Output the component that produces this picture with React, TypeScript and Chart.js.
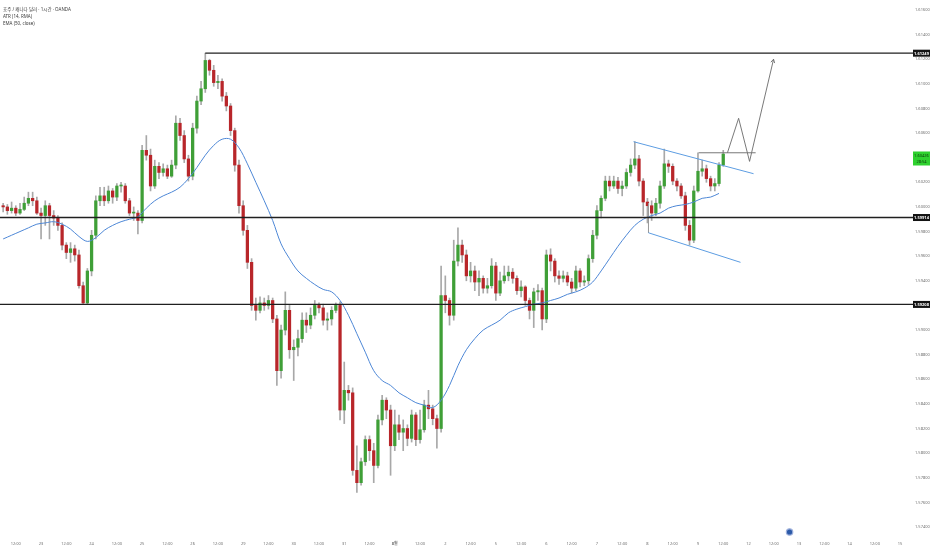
import { useEffect, useRef } from 'react';
import { Chart, registerables } from 'chart.js';

Chart.register(...registerables);

// ---------- header ----------
const titleLines = ['호주 / 캐나다 달러 · 1시간 · OANDA', 'ATR (14, RMA)', 'EMA (50, close)'];

// ---------- time axis (hours relative to 23일 00:00) ----------
const dayLabels = ['23', '24', '25', '26', '29', '30', '31', '8월', '2', '5', '6', '7', '8', '9', '12', '13', '14', '15'];
const halfDayLabel = '12:00';
const hoursPerDay = 24;
const xMin = -19.5;
const xMax = 412.7;

// ---------- candles (2-hour bars, open = previous close) ----------
const firstCandleHour = -19;
const candleHours = 2;
const firstOpen = 1.6001;
const closes = [
  1.6000, 1.5997, 1.5999, 1.5995, 1.5998, 1.6003, 1.6007, 1.6005, 1.5995, 1.5993,
  1.6001, 1.5993, 1.5991, 1.5985, 1.5969, 1.5963, 1.5966, 1.5961, 1.5936, 1.5922,
  1.5948, 1.5977, 1.6005, 1.6009, 1.6005, 1.6013, 1.6008, 1.6017, 1.6017, 1.6005,
  1.5995, 1.5995, 1.5989, 1.6046, 1.6042, 1.6017, 1.6033, 1.6028, 1.6031, 1.6025,
  1.6034, 1.6068, 1.6058, 1.6039, 1.6025, 1.6064, 1.6086, 1.6096, 1.6119, 1.6111,
  1.6101, 1.6102, 1.6090, 1.6082, 1.6062, 1.6034, 1.6001, 1.5981, 1.5955, 1.5920,
  1.5916, 1.5922, 1.5920, 1.5924, 1.5909, 1.5867, 1.5900, 1.5916, 1.5884, 1.5886,
  1.5893, 1.5908, 1.5904, 1.5912, 1.5920, 1.5918, 1.5908, 1.5909, 1.5916, 1.5920,
  1.5835, 1.5851, 1.5849, 1.5786, 1.5776, 1.5793, 1.5811, 1.5802, 1.5790, 1.5827,
  1.5843, 1.5835, 1.5806, 1.5823, 1.5817, 1.5820, 1.5812, 1.5831, 1.5811, 1.5819,
  1.5839, 1.5836, 1.5828, 1.5820, 1.5928, 1.5924, 1.5912, 1.5956, 1.5969, 1.5961,
  1.5944, 1.5948, 1.5939, 1.5942, 1.5934, 1.5936, 1.5952, 1.5930, 1.5940, 1.5944,
  1.5947, 1.5942, 1.5932, 1.5935, 1.5924, 1.5916, 1.5931, 1.5932, 1.5909, 1.5961,
  1.5956, 1.5944, 1.5942, 1.5944, 1.5939, 1.5934, 1.5948, 1.5939, 1.5940, 1.5958,
  1.5977, 1.5997, 1.6007, 1.6021, 1.6017, 1.6021, 1.6015, 1.6017, 1.6028, 1.6034,
  1.6039, 1.6021, 1.6004, 1.6001, 1.5995, 1.6003, 1.6017, 1.6035, 1.6033, 1.6021,
  1.6017, 1.6009, 1.5985, 1.5973, 1.6013, 1.6029, 1.6031, 1.6023, 1.6017, 1.6019,
  1.6034, 1.6043,
];
const highs = [
  1.6003, 1.6002, 1.6004, 1.6001, 1.6003, 1.6008, 1.6012, 1.6012, 1.6008, 1.5999,
  1.6005, 1.6003, 1.5997, 1.5993, 1.5987, 1.5971, 1.5971, 1.5969, 1.5965, 1.5939,
  1.5950, 1.5981, 1.6009, 1.6016, 1.6016, 1.6017, 1.6015, 1.6019, 1.6020, 1.6019,
  1.6007, 1.6000, 1.5997, 1.6050, 1.6058, 1.6047, 1.6038, 1.6036, 1.6035, 1.6034,
  1.6038, 1.6074, 1.6072, 1.6062, 1.6042, 1.6068, 1.6090, 1.6102, 1.61249, 1.6120,
  1.6115, 1.6107, 1.6104, 1.6093, 1.6084, 1.6064, 1.6038, 1.6005, 1.5985, 1.5958,
  1.5926, 1.5927, 1.5926, 1.5928, 1.5926, 1.5912, 1.5904, 1.5931, 1.5920, 1.5892,
  1.5900, 1.5914, 1.5914, 1.5918, 1.5924, 1.5922, 1.5921, 1.5914, 1.5919, 1.5922,
  1.5923, 1.5874, 1.5855, 1.5853, 1.5806, 1.5796, 1.5814, 1.5814, 1.5808, 1.5831,
  1.5847, 1.5845, 1.5839, 1.5835, 1.5831, 1.5827, 1.5823, 1.5835, 1.5833, 1.5835,
  1.5843, 1.5851, 1.5839, 1.5831, 1.5952, 1.5944, 1.5926, 1.5973, 1.5983, 1.5973,
  1.5965, 1.5955, 1.5952, 1.5948, 1.5944, 1.5942, 1.5958, 1.5955, 1.5947, 1.5952,
  1.5952, 1.5950, 1.5944, 1.5940, 1.5936, 1.5926, 1.5934, 1.5937, 1.5934, 1.5965,
  1.5966, 1.5958, 1.5948, 1.5948, 1.5947, 1.5942, 1.5952, 1.5950, 1.5944, 1.5961,
  1.5981, 1.6001, 1.6009, 1.6025, 1.6025, 1.6025, 1.6024, 1.6021, 1.6031, 1.6039,
  1.6053, 1.6042, 1.6023, 1.6007, 1.6005, 1.6007, 1.6021, 1.6047, 1.6038, 1.6035,
  1.6023, 1.6019, 1.6012, 1.5989, 1.6017, 1.6044, 1.6038, 1.6034, 1.6025, 1.6023,
  1.6036, 1.6046,
];
const lows = [
  1.5996, 1.5994, 1.5995, 1.5993, 1.5994, 1.5997, 1.6001, 1.6001, 1.5994, 1.5974,
  1.5985, 1.5974, 1.5985, 1.5981, 1.5965, 1.5958, 1.5955, 1.5956, 1.5934, 1.5921,
  1.5921, 1.5944, 1.5974, 1.6001, 1.6001, 1.6003, 1.6003, 1.6005, 1.6012, 1.6003,
  1.5993, 1.5989, 1.5978, 1.5987, 1.6038, 1.6013, 1.6015, 1.6023, 1.6025, 1.6023,
  1.6024, 1.6031, 1.6054, 1.6036, 1.6021, 1.6022, 1.6060, 1.6083, 1.6093, 1.6107,
  1.6098, 1.6096, 1.6086, 1.6078, 1.6058, 1.6029, 1.5995, 1.5977, 1.5950, 1.5916,
  1.5908, 1.5914, 1.5916, 1.5917, 1.5906, 1.5855, 1.5861, 1.5896, 1.5877, 1.5859,
  1.5879, 1.5890, 1.5898, 1.5901, 1.5909, 1.5914, 1.5904, 1.5900, 1.5904, 1.5914,
  1.5827, 1.5824, 1.5843, 1.5782, 1.5768, 1.5774, 1.5790, 1.5794, 1.5776, 1.5788,
  1.5823, 1.5828, 1.5782, 1.5802, 1.5811, 1.5802, 1.5806, 1.5809, 1.5806, 1.5808,
  1.5817, 1.5828, 1.5823, 1.5804, 1.5817, 1.5914, 1.5904, 1.5908, 1.5952, 1.5955,
  1.5940, 1.5939, 1.5932, 1.5928, 1.5930, 1.5930, 1.5934, 1.5924, 1.5928, 1.5938,
  1.5940, 1.5938, 1.5929, 1.5927, 1.5920, 1.5909, 1.5902, 1.5924, 1.5900, 1.5906,
  1.5948, 1.5939, 1.5937, 1.5939, 1.5936, 1.5930, 1.5932, 1.5935, 1.5936, 1.5937,
  1.5955, 1.5974, 1.5991, 1.6005, 1.6013, 1.6015, 1.6011, 1.6009, 1.6015, 1.6025,
  1.6031, 1.6017, 1.5993, 1.5987, 1.5989, 1.5993, 1.5999, 1.6015, 1.6028, 1.6018,
  1.6013, 1.6007, 1.5981, 1.5969, 1.5971, 1.6012, 1.6025, 1.6020, 1.6013, 1.6013,
  1.6017, 1.6033,
];

// ---------- EMA (50, close), read at every 2nd candle ----------
const emaStep = 2;
const emaValues = [
  1.5974, 1.5977, 1.5980, 1.5983, 1.5986, 1.5987, 1.5988, 1.5986, 1.5982, 1.5976,
  1.5972, 1.5975, 1.5981, 1.5985, 1.5988, 1.5990, 1.5992, 1.5999, 1.6005, 1.6009,
  1.6012, 1.6016, 1.6023, 1.6032, 1.6042, 1.6050, 1.6055, 1.6055, 1.6048, 1.6035,
  1.6020, 1.6005, 1.5989, 1.5970, 1.5958, 1.5948, 1.5942, 1.5937, 1.5933, 1.5931,
  1.5924, 1.5912, 1.5897, 1.5882, 1.5867, 1.5859, 1.5855, 1.5849, 1.5845, 1.5841,
  1.5839, 1.5837, 1.5843, 1.5855, 1.5871, 1.5884, 1.5893, 1.5900, 1.5904, 1.5908,
  1.5914, 1.5917, 1.5919, 1.5921, 1.5922, 1.5924, 1.5926, 1.5929, 1.5931, 1.5934,
  1.5939, 1.5948, 1.5958, 1.5968, 1.5977, 1.5985, 1.5990, 1.5993, 1.5995, 1.5999,
  1.6001, 1.6002, 1.6004, 1.6007, 1.6008, 1.6011,
];

// ---------- price axis ----------
const priceTicks = [
  1.574, 1.576, 1.578, 1.58, 1.582, 1.584, 1.586, 1.588, 1.59, 1.592, 1.594,
  1.596, 1.598, 1.6, 1.602, 1.604, 1.606, 1.608, 1.61, 1.612, 1.614, 1.616,
];
const priceDecimals = 5;
const yMin = 1.57335;
const yMax = 1.61681;

// ---------- drawings (hours, price) ----------
const levelPrices = [1.61249, 1.59914, 1.59208];
const levelStartHours = [78, xMin, xMin];
const levelLabels = ['1.61249', '1.59914', '1.59208'];
const lastPrice = 1.60426;
const lastPriceLabel = '1.60426';
const countdownLabel = '28:54';
const channelUpper = [{ x: 281.4, y: 1.6053 }, { x: 338.4, y: 1.6027 }];
const channelLower = [{ x: 288.5, y: 1.5979 }, { x: 332.2, y: 1.5955 }];
const channelPole = [{ x: 288.5, y: 1.6003 }, { x: 288.5, y: 1.5979 }];
const rangeTop = [{ x: 312.3, y: 1.6044 }, { x: 339.4, y: 1.6044 }];
const projectionPath = [
  { x: 326.0, y: 1.6044 },
  { x: 331.3, y: 1.6072 },
  { x: 336.5, y: 1.6037 },
  { x: 347.9, y: 1.6120 },
];
const markerHour = 355.5;

const FONT = '"Noto Sans", "Noto Sans CJK KR", sans-serif';
const UP = '#3f9f37';
const DOWN = '#b8262a';
const WICK = '#a8a8a8';
const AXIS_TEXT = '#707070';

export default function App() {
  const ref = useRef<HTMLCanvasElement>(null);

  useEffect(() => {
    document.body.style.margin = '0';
    const canvas = ref.current;
    if (!canvas) return;

    const candles = closes.map((c, j) => ({
      t: firstCandleHour + candleHours * j + candleHours / 2,
      o: j === 0 ? firstOpen : closes[j - 1],
      h: highs[j],
      l: lows[j],
      c,
    }));
    const bodyData = candles.map((k) => ({ x: k.t, y: [k.o, k.c] }));
    const wickData = candles.map((k) => ({ x: k.t, y: [k.l, k.h] }));
    const emaData = emaValues.map((v, i) => ({
      x: firstCandleHour + candleHours * emaStep * i + candleHours / 2,
      y: v,
    }));

    const xTicks: { value: number; label: string }[] = [];
    dayLabels.forEach((d, i) => {
      xTicks.push({ value: i * hoursPerDay - hoursPerDay / 2, label: halfDayLabel });
      xTicks.push({ value: i * hoursPerDay, label: d });
    });

    const drawLine = (extra: any) => ({
      type: 'line' as const,
      pointRadius: 0,
      borderWidth: 1,
      fill: false,
      order: 0,
      ...extra,
    });

    const overlay = {
      id: 'overlay',
      afterDatasetsDraw(chart: any) {
        const { ctx, chartArea } = chart;
        const xs = chart.scales.x;
        const ys = chart.scales.y;
        ctx.save();
        // horizontal levels
        ctx.strokeStyle = '#202020';
        ctx.lineWidth = 1.3;
        levelPrices.forEach((p, i) => {
          const y = ys.getPixelForValue(p);
          const x0 = Math.max(chartArea.left, xs.getPixelForValue(levelStartHours[i]));
          ctx.beginPath();
          ctx.moveTo(x0, y);
          ctx.lineTo(chartArea.right + 3, y);
          ctx.stroke();
        });
        // arrow head on projection
        const n = projectionPath.length;
        const ax = xs.getPixelForValue(projectionPath[n - 1].x);
        const ay = ys.getPixelForValue(projectionPath[n - 1].y);
        const bx = xs.getPixelForValue(projectionPath[n - 2].x);
        const by = ys.getPixelForValue(projectionPath[n - 2].y);
        const ang = Math.atan2(ay - by, ax - bx);
        ctx.strokeStyle = '#6a6a6a';
        ctx.lineWidth = 0.9;
        ctx.beginPath();
        ctx.moveTo(ax - 4 * Math.cos(ang - 0.5), ay - 4 * Math.sin(ang - 0.5));
        ctx.lineTo(ax, ay);
        ctx.lineTo(ax - 4 * Math.cos(ang + 0.5), ay - 4 * Math.sin(ang + 0.5));
        ctx.stroke();
        ctx.restore();
      },
      afterDraw(chart: any) {
        const { ctx, chartArea } = chart;
        const xs = chart.scales.x;
        const ys = chart.scales.y;
        ctx.save();
        // header
        ctx.fillStyle = '#3a3a3a';
        ctx.font = `4.5px ${FONT}`;
        ctx.textBaseline = 'middle';
        ctx.textAlign = 'left';
        titleLines.forEach((t, i) => ctx.fillText(t, 3, 10 + i * 7));
        // price axis tick labels (from the scale's ticks)
        ctx.fillStyle = AXIS_TEXT;
        ctx.font = `4px ${FONT}`;
        ys.ticks.forEach((t: any) => {
          const y = ys.getPixelForValue(t.value);
          ctx.fillText(Number(t.value).toFixed(priceDecimals), chartArea.right + 5, y);
        });
        // level price labels
        const bx = chartArea.right + 3;
        ctx.textAlign = 'center';
        levelPrices.forEach((p, i) => {
          const y = ys.getPixelForValue(p);
          ctx.fillStyle = '#131313';
          ctx.fillRect(bx, y - 3.5, 17, 7);
          ctx.fillStyle = '#ffffff';
          ctx.font = `bold 4px ${FONT}`;
          ctx.fillText(levelLabels[i], bx + 8.5, y + 0.2);
        });
        // last price label
        const ly = ys.getPixelForValue(lastPrice);
        ctx.fillStyle = '#2fd12f';
        ctx.fillRect(bx, ly - 3, 17, 14);
        ctx.fillStyle = '#0c3a0c';
        ctx.font = `4px ${FONT}`;
        ctx.fillText(lastPriceLabel, bx + 8.5, ly + 1);
        ctx.fillText(countdownLabel, bx + 8.5, ly + 7);
        // navigation marker
        const mx = xs.getPixelForValue(markerHour);
        const my = chartArea.bottom - 3;
        ctx.beginPath();
        ctx.arc(mx, my, 3.2, 0, Math.PI * 2);
        ctx.fillStyle = '#2c5aa8';
        ctx.fill();
        ctx.lineWidth = 1.2;
        ctx.strokeStyle = '#9db0dc';
        ctx.stroke();
        ctx.restore();
      },
    };

    const chart = new Chart(canvas, {
      type: 'bar',
      data: {
        datasets: [
          {
            type: 'bar',
            label: 'wick',
            data: wickData as any,
            backgroundColor: WICK,
            barThickness: 1,
            grouped: false,
            borderWidth: 0,
            order: 3,
          } as any,
          {
            type: 'bar',
            label: 'body',
            data: bodyData as any,
            backgroundColor: (c: any) => {
              const k = candles[c.dataIndex];
              return k && k.c >= k.o ? UP : DOWN;
            },
            barThickness: 2.6,
            minBarLength: 1,
            grouped: false,
            borderWidth: 0,
            order: 2,
          } as any,
          drawLine({ label: 'EMA', data: emaData, borderColor: '#4d87d6', tension: 0.35, order: 1 }),
          drawLine({ label: 'upper', data: channelUpper, borderColor: '#5d9de2' }),
          drawLine({ label: 'lower', data: channelLower, borderColor: '#5d9de2' }),
          drawLine({ label: 'pole', data: channelPole, borderColor: '#9a9a9a' }),
          drawLine({ label: 'range', data: rangeTop, borderColor: '#777777' }),
          drawLine({ label: 'projection', data: projectionPath, borderColor: '#6a6a6a', borderWidth: 0.9 }),
        ],
      },
      options: {
        animation: false,
        responsive: false,
        events: [],
        layout: { padding: 0 },
        plugins: { legend: { display: false }, tooltip: { enabled: false } },
        scales: {
          x: {
            type: 'linear',
            min: xMin,
            max: xMax,
            offset: false,
            grid: { display: false, drawTicks: false },
            border: { display: false },
            afterFit: (s: any) => {
              s.height = 15;
            },
            afterBuildTicks: (s: any) => {
              s.ticks = xTicks.map((t) => ({ value: t.value }));
            },
            ticks: {
              autoSkip: false,
              maxRotation: 0,
              padding: 6,
              color: AXIS_TEXT,
              font: (c: any) => ({
                size: 4,
                family: FONT,
                weight: c.tick && c.tick.label === '8월' ? 'bold' : 'normal',
              }),
              callback: (_v: any, i: number) => (xTicks[i] ? xTicks[i].label : ''),
            },
          },
          y: {
            type: 'linear',
            position: 'right',
            min: yMin,
            max: yMax,
            grid: { display: false, drawTicks: false },
            border: { display: false },
            afterFit: (s: any) => {
              s.width = 22;
            },
            afterBuildTicks: (s: any) => {
              s.ticks = priceTicks.map((v) => ({ value: v }));
            },
            ticks: { display: false, padding: 0 },
          },
        },
      } as any,
      plugins: [overlay],
    });

    return () => chart.destroy();
  }, []);

  return (
    <div style={{ width: 932, height: 550, background: '#ffffff' }}>
      <canvas ref={ref} width={932} height={550} />
    </div>
  );
}
